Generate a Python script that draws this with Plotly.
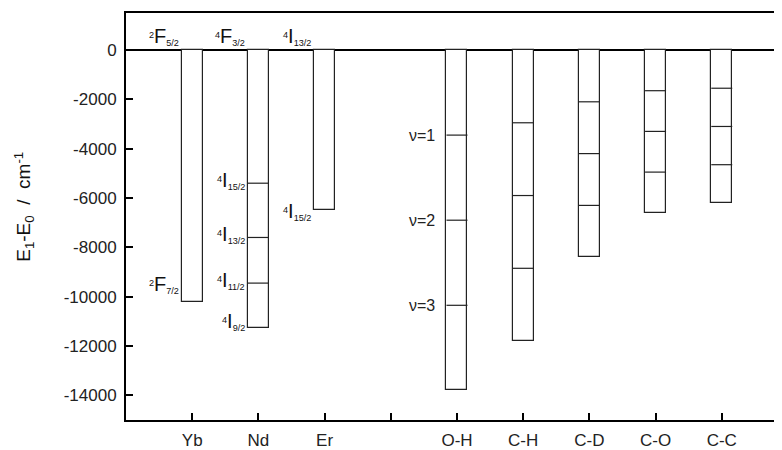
import plotly.graph_objects as go

# ---- data ----
categories = ["Yb", "Nd", "Er", "", "O-H", "C-H", "C-D", "C-O", "C-C"]
positions = [1, 2, 3, 4, 5, 6, 7, 8, 9]

# ion bars (energy of lower level relative to emitting level, cm-1)
ion_pos = [1, 2, 3]
ion_depth = [-10200, -11250, -6500]
nd_levels = [-5400, -7600, -9450]

# vibrational overtone levels (v=1..4)
vib_pos = [5, 6, 7, 8, 9]
oh_levels = [-3450, -6900, -10350, -13800]
ch_levels = [-2950, -5900, -8850, -11800]
cd_levels = [-2100, -4200, -6300, -8400]
co_levels = [-1650, -3300, -4950, -6600]
cc_levels = [-1550, -3100, -4650, -6200]
vib_levels = [oh_levels, ch_levels, cd_levels, co_levels, cc_levels]

y_ticks = [0, -2000, -4000, -6000, -8000, -10000, -12000, -14000]
y_ticktext = ["0", "-2000", "-4000", "-6000", "-8000", "-10000", "-12000", "-14000"]

BW = 0.317
HALF = BW / 2
FONT = "Liberation Sans, Arial"

fig = go.Figure()

all_pos = ion_pos + vib_pos
all_depth = ion_depth + [lv[-1] for lv in vib_levels]
fig.add_trace(go.Bar(x=all_pos, y=all_depth, width=BW,
                     marker=dict(color="white", line=dict(color="#222", width=1.2)),
                     showlegend=False, hoverinfo="skip"))

# inner level lines
lx, ly = [], []
for v in nd_levels:
    lx += [2 - HALF, 2 + HALF, None]
    ly += [v, v, None]
for p, lv in zip(vib_pos, vib_levels):
    for v in lv[:-1]:
        lx += [p - HALF, p + HALF, None]
        ly += [v, v, None]
fig.add_trace(go.Scatter(x=lx, y=ly, mode="lines", line=dict(color="#222", width=1.2),
                         showlegend=False, hoverinfo="skip"))

BIG = '<span style="font-size:20px">%s</span>'


def lab(sup, main, sub):
    return "<sup>%s</sup>" % sup + BIG % main + "<sub>%s</sub>" % sub


# (x, y, text, yshift)
labels = [
    (1, 0, lab("2", "F", "5/2"), 14),
    (2, 0, lab("4", "F", "3/2"), 14),
    (3, 0, lab("4", "I", "13/2"), 14),
    (1, ion_depth[0], lab("2", "F", "7/2"), 17),
    (2, nd_levels[0], lab("4", "I", "15/2"), 3),
    (2, nd_levels[1], lab("4", "I", "13/2"), 3),
    (2, nd_levels[2], lab("4", "I", "11/2"), 3),
    (2, ion_depth[1], lab("4", "I", "9/2"), 6),
    (3, ion_depth[2], lab("4", "I", "15/2"), -1),
]
for x, y, t, ys in labels:
    fig.add_annotation(x=x - HALF, y=y, text=t, xanchor="right", yanchor="middle",
                       xshift=-1, yshift=ys, showarrow=False,
                       font=dict(family=FONT, size=13, color="#111"))

for i, v in enumerate(oh_levels[:-1]):
    fig.add_annotation(x=5 - HALF, y=v, text="ν=%d" % (i + 1), xanchor="right",
                       yanchor="middle", xshift=-9, showarrow=False,
                       font=dict(family=FONT, size=16, color="#222"))

# axis title
fig.add_annotation(xref="paper", yref="paper", x=-0.156, y=0.523, textangle=-90,
                   text="E<sub>1</sub>-E<sub>0</sub>&nbsp;&nbsp;/&nbsp;&nbsp;cm<sup>-1</sup>",
                   showarrow=False, xanchor="center", yanchor="middle",
                   font=dict(family=FONT, size=19, color="#111"))

# right-axis inward ticks (axis itself lies just beyond the picture)
for t in y_ticks:
    fig.add_shape(type="line", xref="paper", yref="y", x0=0.9965, x1=1.0, y0=t, y1=t,
                  line=dict(color="#222", width=2))

fig.update_xaxes(range=[0, 9.91], tickvals=positions, ticktext=categories,
                 showline=True, linecolor="black", linewidth=2, mirror=True,
                 ticks="inside", ticklen=7, tickwidth=2, tickcolor="black",
                 showgrid=False, zeroline=False, ticklabelstandoff=4,
                 tickfont=dict(family=FONT, size=17, color="#222"))
fig.update_yaxes(range=[-15000, 1500], tickvals=y_ticks, ticktext=y_ticktext,
                 showline=True, linecolor="black", linewidth=2, mirror=False,
                 ticks="inside", ticklen=7, tickwidth=2, tickcolor="black",
                 showgrid=False, zeroline=True, zerolinecolor="black", zerolinewidth=1.5,
                 ticklabelstandoff=4,
                 tickfont=dict(family=FONT, size=17, color="#222"))

# the page body adds an 8px margin, so the figure is 8px smaller than the window
fig.update_layout(width=774, height=442, margin=dict(l=118, r=0, t=5, b=18),
                  plot_bgcolor="white", paper_bgcolor="white", bargap=0)

fig.write_html("out.html")
